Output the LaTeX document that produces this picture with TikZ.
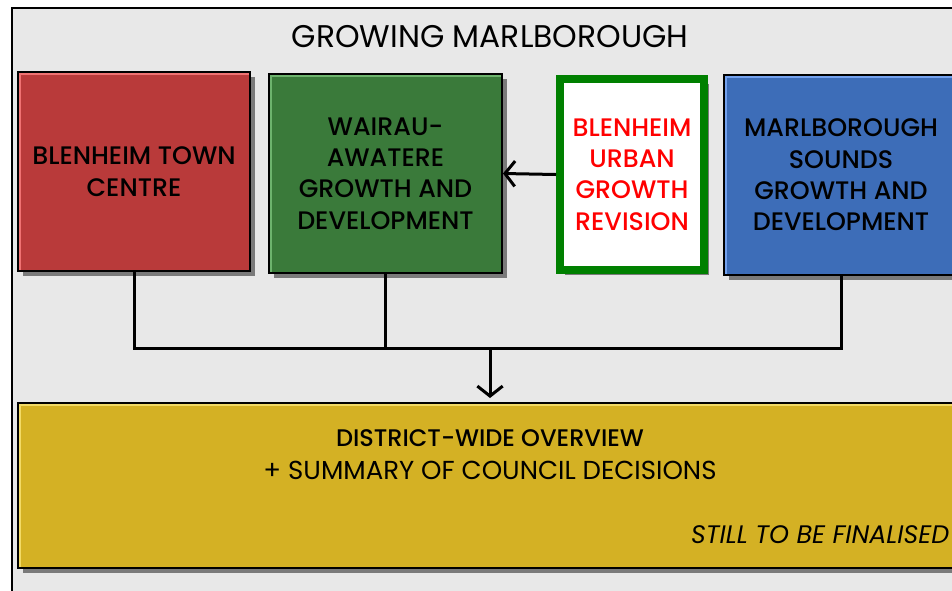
\documentclass[tikz,border=0pt]{standalone}
\usepackage{fontspec}
\setmainfont{Poppins}
\newfontfamily\mediumfont{Poppins Medium}
\usetikzlibrary{arrows.meta,positioning,shadows}

\definecolor{panelgray}{HTML}{E8E8E8}
\definecolor{shadowgray}{HTML}{7A7A7A}
\definecolor{townred}{HTML}{B93A3A}
\definecolor{townredhi}{HTML}{F07272}
\definecolor{wairaugreen}{HTML}{3A7A3A}
\definecolor{wairaugreenhi}{HTML}{6DB36D}
\definecolor{revisiongreen}{HTML}{008000}
\definecolor{soundsblue}{HTML}{3D6DB8}
\definecolor{soundsbluehi}{HTML}{74A2EE}
\definecolor{overviewgold}{HTML}{D4B124}
\definecolor{overviewgoldhi}{HTML}{F2DA66}

\begin{document}
\begin{tikzpicture}[x=0.75pt,y=-0.75pt,
    boxtext/.style={font=\mediumfont\fontsize{19}{23.5}\selectfont,align=center},
    area/.style={draw=black,line width=1.5pt,boxtext,
        drop shadow={shadow xshift=3.75pt,shadow yshift=-3.75pt,fill=shadowgray,opacity=1}},
    bevel/.style={path picture={\draw[line width=4.5pt,#1]
        (path picture bounding box.south west) -- (path picture bounding box.north west)
        -- (path picture bounding box.north east);}},
    link/.style={line width=2.25pt,draw=black},
    tip/.style={-{Straight Barb[length=7.5pt,width=19pt,line width=2.25pt]}}]

    % Frame and bounding box
    \useasboundingbox (0,0) rectangle (952,590);
    \draw[line width=1.5pt,fill=panelgray] (12,8) rectangle (980,605);
    \node[font=\fontsize{23.5}{25}\selectfont] (title) at (490,37) {GROWING MARLBOROUGH};

    % Top row of areas
    \node[area,fill=townred,bevel=townredhi,minimum width=174pt,minimum height=149.25pt]
        (town) at (134,171.5) {BLENHEIM TOWN\\CENTRE};
    \node[area,fill=wairaugreen,bevel=wairaugreenhi,minimum width=174.75pt,minimum height=149.25pt]
        (wairau) at (385.5,173.5) {WAIRAU-\\AWATERE\\GROWTH AND\\DEVELOPMENT};
    \node[boxtext,draw=revisiongreen,line width=6pt,fill=white,text=red,
        drop shadow={shadow xshift=3.75pt,shadow yshift=-3.75pt,fill=shadowgray,opacity=1},
        minimum width=108pt,minimum height=143.25pt]
        (revision) at (632,174.5) {BLENHEIM\\URBAN\\GROWTH\\REVISION};
    \node[area,fill=soundsblue,bevel=soundsbluehi,minimum width=175.5pt,minimum height=150pt]
        (sounds) at (841,175) {MARLBOROUGH\\SOUNDS\\GROWTH AND\\DEVELOPMENT};

    % Overview box
    \node[area,fill=overviewgold,bevel=overviewgoldhi,minimum width=708pt,minimum height=123.75pt]
        (overview) at (490,485.5) {};
    \node[boxtext,font=\mediumfont\fontsize{18}{23.5}\selectfont] (ovtitle) at (490,438) {DISTRICT-WIDE OVERVIEW};
    \node[font=\fontsize{19.5}{23.5}\selectfont] (ovsub) at (490,470) {+ SUMMARY OF COUNCIL DECISIONS};
    \node[anchor=east,font=\fontsize{19}{23.5}\selectfont\itshape] (ovnote) at (954,535) {STILL TO BE FINALISED};

    % Connectors
    \coordinate (join) at (490,348);
    \draw[link] (town.south) |- (sounds |- join) -- (sounds.south);
    \draw[link] (wairau.south) -- (wairau |- join);
    \draw[link,tip,shorten >=3pt] (join) -- (overview.north);
    \draw[link,tip] (revision.west) -- (wairau.east);

\end{tikzpicture}
\end{document}
